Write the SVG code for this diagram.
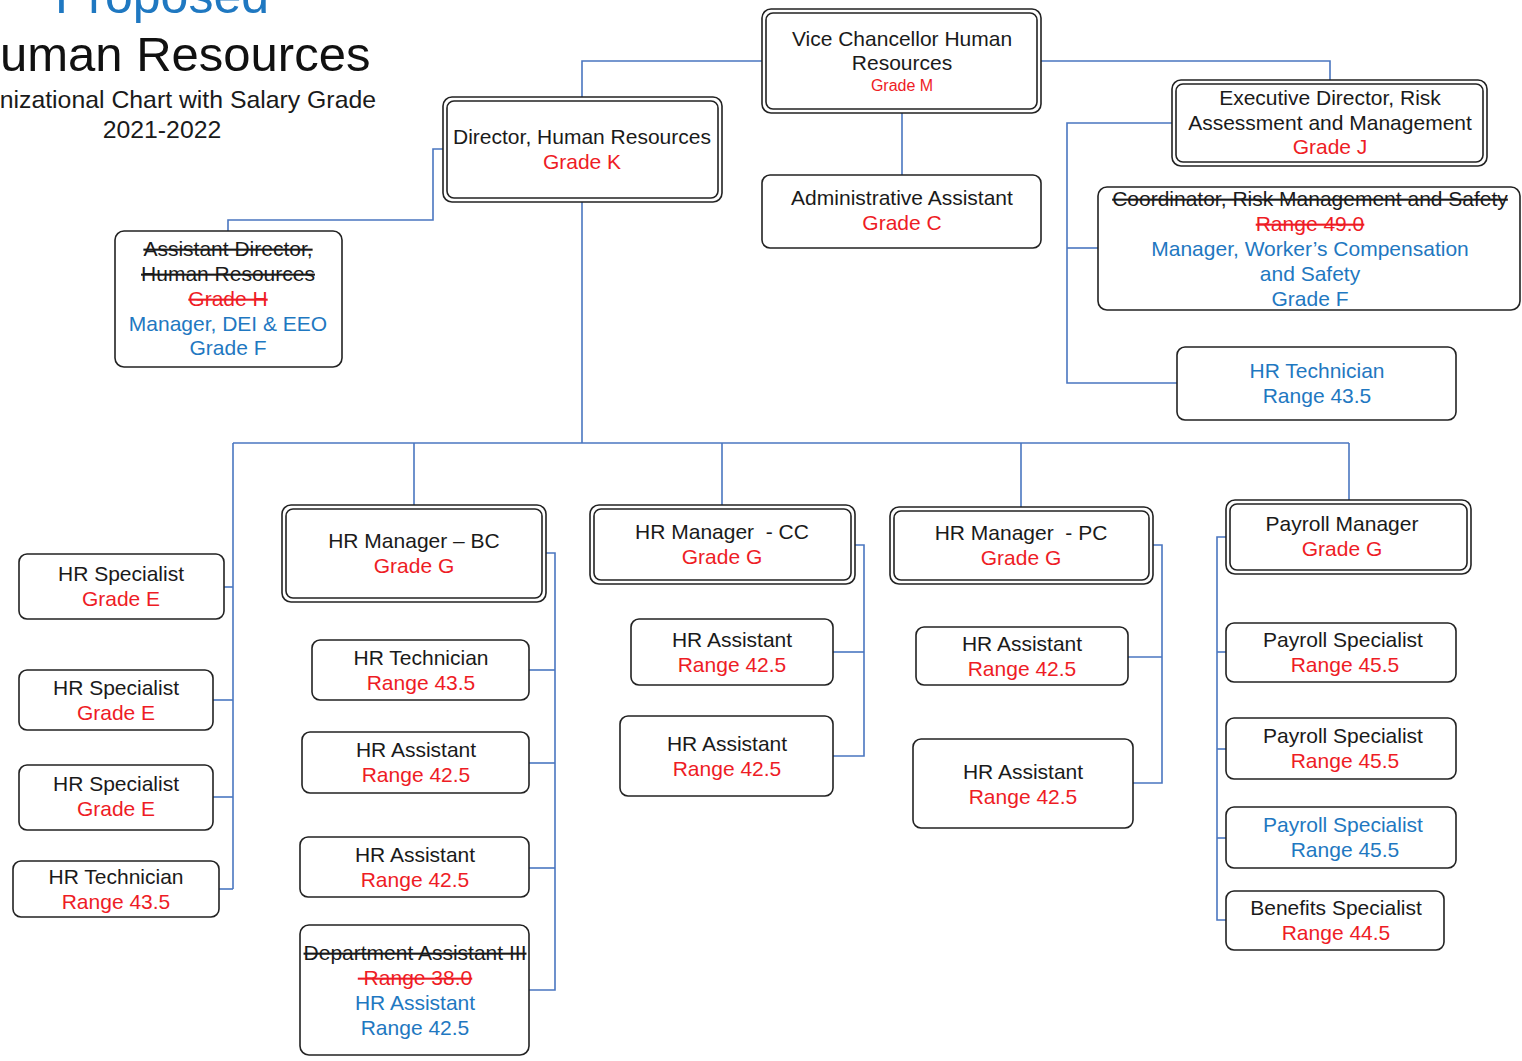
<svg xmlns="http://www.w3.org/2000/svg" width="1522" height="1061" viewBox="0 0 1522 1061">
<style>
text{font-family:"Liberation Sans",Arial,sans-serif;font-size:21px;text-anchor:middle;fill:#1a1a1a}
.r{fill:#ee1c25}
.b{fill:#1f78c1}
.s{text-decoration:line-through}
.box{fill:#fff;stroke:#222;stroke-width:1.6}
.in{fill:none;stroke:#222;stroke-width:1.6}
.c{fill:none;stroke:#4a76c0;stroke-width:1.6}
.t1{font-size:49px;text-anchor:start}
.t2{font-size:24.8px}
</style>
<rect width="1522" height="1061" fill="#fff"/>
<g id="title">
<text class="t1" x="55" y="13" style="fill:#1f78c1;font-size:50px">Proposed</text>
<text class="t1" x="0" y="71" style="fill:#111">uman Resources</text>
<text class="t2" x="376" y="108" style="text-anchor:end">nizational Chart with Salary Grade</text>
<text class="t2" x="162" y="138">2021-2022</text>
</g>
<g id="connectors">
<polyline class="c" points="762,61 582,61 582,97"/>
<polyline class="c" points="1041,61 1330,61 1330,80"/>
<line class="c" x1="902" y1="113" x2="902" y2="175"/>
<polyline class="c" points="443,149 433,149 433,220 228,220 228,231"/>
<line class="c" x1="582" y1="202" x2="582" y2="443"/>
<line class="c" x1="233" y1="443" x2="1349" y2="443"/>
<line class="c" x1="414" y1="443" x2="414" y2="505"/>
<line class="c" x1="722" y1="443" x2="722" y2="505"/>
<line class="c" x1="1021" y1="443" x2="1021" y2="507"/>
<line class="c" x1="1349" y1="443" x2="1349" y2="500"/>
<line class="c" x1="233" y1="443" x2="233" y2="889"/>
<line class="c" x1="224" y1="587" x2="233" y2="587"/>
<line class="c" x1="213" y1="700" x2="233" y2="700"/>
<line class="c" x1="213" y1="797" x2="233" y2="797"/>
<line class="c" x1="219" y1="889" x2="233" y2="889"/>
<polyline class="c" points="1172,123 1067,123 1067,383 1177,383"/>
<line class="c" x1="1067" y1="248" x2="1098" y2="248"/>
<polyline class="c" points="546,553 555,553 555,990 529,990"/>
<line class="c" x1="529" y1="670" x2="555" y2="670"/>
<line class="c" x1="529" y1="763" x2="555" y2="763"/>
<line class="c" x1="529" y1="868" x2="555" y2="868"/>
<polyline class="c" points="855,545 864,545 864,756 833,756"/>
<line class="c" x1="833" y1="652" x2="864" y2="652"/>
<polyline class="c" points="1153,545 1162,545 1162,783 1133,783"/>
<line class="c" x1="1128" y1="657" x2="1162" y2="657"/>
<polyline class="c" points="1226,537 1217,537 1217,920 1226,920"/>
<line class="c" x1="1217" y1="652" x2="1226" y2="652"/>
<line class="c" x1="1217" y1="749" x2="1226" y2="749"/>
<line class="c" x1="1217" y1="838" x2="1226" y2="838"/>
</g>
<g id="vc">
<rect class="box" x="762" y="9" width="279" height="104" rx="9"/>
<rect class="in" x="766" y="13" width="271" height="96" rx="7"/>
<text x="902" y="46">Vice Chancellor Human</text>
<text x="902" y="70">Resources</text>
<text class="r" x="902" y="91" style="font-size:16px">Grade M</text>
</g>
<g id="director">
<rect class="box" x="443" y="97" width="279" height="105" rx="9"/>
<rect class="in" x="447" y="101" width="271" height="97" rx="7"/>
<text x="582" y="144">Director, Human Resources</text>
<text class="r" x="582" y="169">Grade K</text>
</g>
<g id="admin">
<rect class="box" x="762" y="175" width="279" height="73" rx="8"/>
<text x="902" y="205">Administrative Assistant</text>
<text class="r" x="902" y="230">Grade C</text>
</g>
<g id="execdir">
<rect class="box" x="1172" y="80" width="315" height="86" rx="9"/>
<rect class="in" x="1176" y="84" width="307" height="78" rx="7"/>
<text x="1330" y="105">Executive Director, Risk</text>
<text x="1330" y="130">Assessment and Management</text>
<text class="r" x="1330" y="154">Grade J</text>
</g>
<g id="coordinator">
<rect class="box" x="1098" y="187" width="422" height="123" rx="9"/>
<text class="s" x="1310" y="206">Coordinator, Risk Management and Safety</text>
<text class="r s" x="1310" y="231">Range 49.0</text>
<text class="b" x="1310" y="256">Manager, Worker’s Compensation</text>
<text class="b" x="1310" y="281">and Safety</text>
<text class="b" x="1310" y="306">Grade F</text>
</g>
<g id="hrtech-risk">
<rect class="box" x="1177" y="347" width="279" height="73" rx="8"/>
<text class="b" x="1317" y="378">HR Technician</text>
<text class="b" x="1317" y="403">Range 43.5</text>
</g>
<g id="asstdir">
<rect class="box" x="115" y="231" width="227" height="136" rx="9"/>
<text class="s" x="228" y="256">Assistant Director,</text>
<text class="s" x="228" y="281">Human Resources</text>
<text class="r s" x="228" y="306">Grade H</text>
<text class="b" x="228" y="331">Manager, DEI &amp; EEO</text>
<text class="b" x="228" y="355">Grade F</text>
</g>
<g id="spec1">
<rect class="box" x="19" y="554" width="205" height="65" rx="8"/>
<text x="121" y="581">HR Specialist</text>
<text class="r" x="121" y="606">Grade E</text>
</g>
<g id="spec2">
<rect class="box" x="19" y="670" width="194" height="60" rx="8"/>
<text x="116" y="695">HR Specialist</text>
<text class="r" x="116" y="720">Grade E</text>
</g>
<g id="spec3">
<rect class="box" x="19" y="765" width="194" height="65" rx="8"/>
<text x="116" y="791">HR Specialist</text>
<text class="r" x="116" y="816">Grade E</text>
</g>
<g id="tech-left">
<rect class="box" x="13" y="861" width="206" height="56" rx="8"/>
<text x="116" y="884">HR Technician</text>
<text class="r" x="116" y="909">Range 43.5</text>
</g>
<g id="mgr-bc">
<rect class="box" x="282" y="505" width="264" height="97" rx="9"/>
<rect class="in" x="286" y="509" width="256" height="89" rx="7"/>
<text x="414" y="548">HR Manager – BC</text>
<text class="r" x="414" y="573">Grade G</text>
</g>
<g id="bc-tech">
<rect class="box" x="312" y="640" width="217" height="60" rx="8"/>
<text x="421" y="665">HR Technician</text>
<text class="r" x="421" y="690">Range 43.5</text>
</g>
<g id="bc-asst1">
<rect class="box" x="302" y="732" width="227" height="61" rx="8"/>
<text x="416" y="757">HR Assistant</text>
<text class="r" x="416" y="782">Range 42.5</text>
</g>
<g id="bc-asst2">
<rect class="box" x="300" y="837" width="229" height="60" rx="8"/>
<text x="415" y="862">HR Assistant</text>
<text class="r" x="415" y="887">Range 42.5</text>
</g>
<g id="bc-dept">
<rect class="box" x="300" y="925" width="229" height="130" rx="9"/>
<text class="s" x="415" y="960">Department Assistant III</text>
<text class="r s" x="415" y="985" xml:space="preserve"> Range 38.0</text>
<text class="b" x="415" y="1010">HR Assistant</text>
<text class="b" x="415" y="1035">Range 42.5</text>
</g>
<g id="mgr-cc">
<rect class="box" x="590" y="505" width="265" height="79" rx="9"/>
<rect class="in" x="594" y="509" width="257" height="71" rx="7"/>
<text x="722" y="539" xml:space="preserve">HR Manager  - CC</text>
<text class="r" x="722" y="564">Grade G</text>
</g>
<g id="cc-asst1">
<rect class="box" x="631" y="619" width="202" height="66" rx="8"/>
<text x="732" y="647">HR Assistant</text>
<text class="r" x="732" y="672">Range 42.5</text>
</g>
<g id="cc-asst2">
<rect class="box" x="620" y="716" width="213" height="80" rx="8"/>
<text x="727" y="751">HR Assistant</text>
<text class="r" x="727" y="776">Range 42.5</text>
</g>
<g id="mgr-pc">
<rect class="box" x="890" y="507" width="263" height="77" rx="9"/>
<rect class="in" x="894" y="511" width="255" height="69" rx="7"/>
<text x="1021" y="540" xml:space="preserve">HR Manager  - PC</text>
<text class="r" x="1021" y="565">Grade G</text>
</g>
<g id="pc-asst1">
<rect class="box" x="916" y="627" width="212" height="58" rx="8"/>
<text x="1022" y="651">HR Assistant</text>
<text class="r" x="1022" y="676">Range 42.5</text>
</g>
<g id="pc-asst2">
<rect class="box" x="913" y="739" width="220" height="89" rx="8"/>
<text x="1023" y="779">HR Assistant</text>
<text class="r" x="1023" y="804">Range 42.5</text>
</g>
<g id="payroll-mgr">
<rect class="box" x="1226" y="500" width="245" height="74" rx="9"/>
<rect class="in" x="1230" y="504" width="237" height="66" rx="7"/>
<text x="1342" y="531">Payroll Manager</text>
<text class="r" x="1342" y="556">Grade G</text>
</g>
<g id="ps1">
<rect class="box" x="1226" y="623" width="230" height="59" rx="8"/>
<text x="1343" y="647">Payroll Specialist</text>
<text class="r" x="1345" y="672">Range 45.5</text>
</g>
<g id="ps2">
<rect class="box" x="1226" y="718" width="230" height="61" rx="8"/>
<text x="1343" y="743">Payroll Specialist</text>
<text class="r" x="1345" y="768">Range 45.5</text>
</g>
<g id="ps3">
<rect class="box" x="1226" y="807" width="230" height="61" rx="8"/>
<text class="b" x="1343" y="832">Payroll Specialist</text>
<text class="b" x="1345" y="857">Range 45.5</text>
</g>
<g id="benefits">
<rect class="box" x="1226" y="891" width="218" height="59" rx="8"/>
<text x="1336" y="915">Benefits Specialist</text>
<text class="r" x="1336" y="940">Range 44.5</text>
</g>
</svg>
